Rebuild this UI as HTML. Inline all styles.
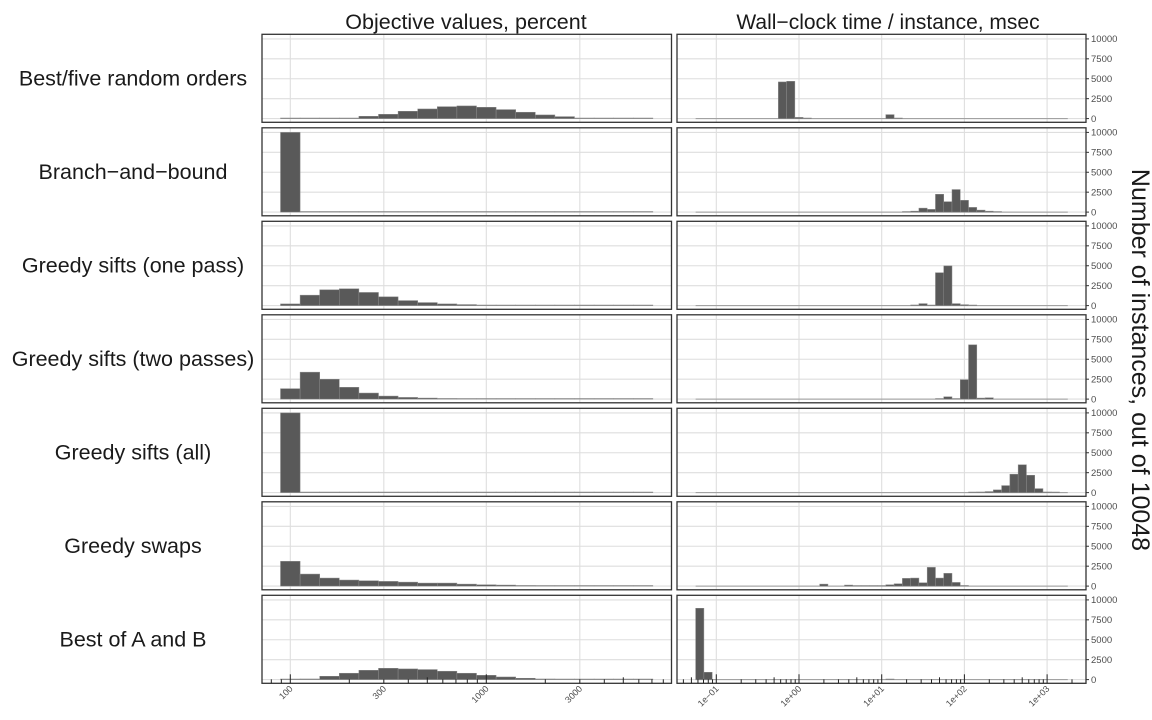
<!DOCTYPE html>
<html><head><meta charset="utf-8"><style>
html,body{margin:0;padding:0;background:#fff}
svg{display:block;font-family:"Liberation Sans",sans-serif}
</style></head><body>
<svg id="chart" width="1152" height="720" viewBox="0 0 1152 720">
<text x="466" y="29" font-size="21.5" text-anchor="middle" fill="#1a1a1a">Objective values, percent</text>
<text x="888" y="29" font-size="21" text-anchor="middle" fill="#1a1a1a">Wall−clock time / instance, msec</text>
<text transform="translate(1132,360) rotate(90)" font-size="25" text-anchor="middle" fill="#1a1a1a">Number of instances, out of 10048</text>
</svg>
<script>
const rowLabels = ["Best/five random orders","Branch−and−bound","Greedy sifts (one pass)","Greedy sifts (two passes)","Greedy sifts (all)","Greedy swaps","Best of A and B"];
const leftCounts = [
 [5,0,30,40,290,540,920,1210,1500,1590,1420,1130,800,460,250,40,20,10,5],
 [10000,0,0,0,0,0,0,0,0,0,0,0,0,0,0,0,0,0,0],
 [210,1310,1980,2110,1650,1100,630,380,210,130,40,20,15,10,5,5,3,2,1],
 [1310,3380,2490,1480,760,380,210,130,80,20,15,10,5,5,3,2,1,1,0],
 [10000,0,0,0,0,0,0,0,0,0,0,0,0,0,0,0,0,0,0],
 [3110,1510,1010,760,670,590,500,380,380,250,170,130,80,40,20,15,10,5,3],
 [0,80,420,800,1170,1420,1340,1260,1050,800,540,330,170,80,40,20,10,5,3]
];
const rightLogs = [
 [-0.2,-0.1,0.0,0.1,1.1,1.2],
 [1.3,1.4,1.5,1.6,1.7,1.8,1.9,2.0,2.1,2.2,2.3,2.4],
 [1.4,1.5,1.6,1.7,1.8,1.9,2.0,2.1],
 [1.7,1.8,1.9,2.0,2.1,2.2,2.3],
 [2.1,2.2,2.3,2.4,2.5,2.6,2.7,2.8,2.9,3.0,3.1],
 [0.3,0.6,0.7,0.8,0.9,1.0,1.1,1.2,1.3,1.4,1.5,1.6,1.7,1.8,1.9,2.0],
 [-1.2,-1.1,1.1]
];
const rightCounts = [
 [4600,4680,150,40,500,50],
 [10,120,500,340,2240,1310,2830,1480,590,250,120,40],
 [80,250,10,4130,4980,250,120,30],
 [40,290,0,2440,6810,130,170],
 [10,80,130,340,880,2310,3490,2180,500,80,30],
 [250,130,40,40,40,40,170,290,970,1010,420,2350,1010,1600,460,80],
 [8950,920,50]
];
const yTicks = [0,2500,5000,7500,10000];
const leftXTicks = [100,300,1000,3000];
const rightXTicks = [-1,0,1,2,3];
const rightXLabels = ["1e−01","1e+00","1e+01","1e+02","1e+03"];

const NS="http://www.w3.org/2000/svg";
const svg=document.getElementById('chart');
function mk(tag,attrs,parent){const e=document.createElementNS(NS,tag);for(const k in attrs)e.setAttribute(k,attrs[k]);(parent||svg).appendChild(e);return e;}
const LX0=262,LX1=671.5,RX0=677,RX1=1086;
const lx=v=>290.3+196*(Math.log10(v)-2);
const rx=l=>799+82.7*l;
const rowTop=i=>34.3+i*93.5;
const PH=88;
const yS=(i,c)=>rowTop(i)+84.3-c*79.7/10000;

for(let i=0;i<7;i++){
  const t=rowTop(i);
  const lab=mk('text',{x:133,y:t+PH/2+7,'font-size':21.5,'text-anchor':'middle',fill:'#1a1a1a'});
  lab.textContent=rowLabels[i];
  
  
  [[LX0,LX1,'left'],[RX0,RX1,'right']].forEach(([a,b,side])=>{
    const g=mk('g',{});
    
    
    mk('rect',{x:a,y:t,width:b-a,height:PH,fill:'#fff'},g);
    yTicks.forEach(v=>mk('line',{x1:a,x2:b,y1:yS(i,v),y2:yS(i,v),stroke:'#dedede','stroke-width':1.1},g));
    if(side==='left') leftXTicks.forEach(v=>mk('line',{x1:lx(v),x2:lx(v),y1:t,y2:t+PH,stroke:'#dedede','stroke-width':1.1},g));
    else rightXTicks.forEach(l=>mk('line',{x1:rx(l),x2:rx(l),y1:t,y2:t+PH,stroke:'#dedede','stroke-width':1.1},g));
  });
  leftCounts[i].forEach((c,k)=>{
    const x0=lx(Math.pow(10,1.95+0.1*k)),x1=lx(Math.pow(10,2.05+0.1*k));
    const y=yS(i,c),y0=yS(i,0);
    const r=mk('rect',{x:x0,y:Math.min(y,y0-0.6),width:x1-x0,height:Math.max(y0-y,0.6),fill:'#595959',stroke:'#8a8a8a','stroke-width':0.5});
    
    
  });
  mk('line',{x1:rx(-1.25),x2:rx(3.25),y1:yS(i,0),y2:yS(i,0),stroke:'#9a9a9a','stroke-width':1});
  rightLogs[i].forEach((l,j)=>{
    const c=rightCounts[i][j];
    const x0=rx(l-0.05),x1=rx(l+0.05);
    const y=yS(i,c),y0=yS(i,0);
    const r=mk('rect',{x:x0,y:Math.min(y,y0-0.6),width:x1-x0,height:Math.max(y0-y,0.6),fill:'#595959',stroke:'#8a8a8a','stroke-width':0.5});
    
    
  });
  mk('rect',{x:LX0,y:t,width:LX1-LX0,height:PH,fill:'none',stroke:'#333','stroke-width':1.3});
  mk('rect',{x:RX0,y:t,width:RX1-RX0,height:PH,fill:'none',stroke:'#333','stroke-width':1.3});
  yTicks.forEach(v=>{
    mk('line',{x1:RX1,x2:RX1+3,y1:yS(i,v),y2:yS(i,v),stroke:'#333','stroke-width':1});
    const tx=mk('text',{x:RX1+5,y:yS(i,v)+3.3,'font-size':9.5,fill:'#4d4d4d'});
    tx.textContent=v;
    
    
  });
}
const yb=rowTop(6)+PH;
for(let d=1;d<=3;d++)for(let m=1;m<10;m++){
  const v=m*Math.pow(10,d);const x=lx(v);
  if(x<LX0||x>LX1)continue;
  const len=m===1?9:(m===5?6:4);
  mk('line',{x1:x,x2:x,y1:yb,y2:yb-len,stroke:'#222','stroke-width':1});
}
for(let d=-2;d<=3;d++)for(let m=1;m<10;m++){
  const l=d+Math.log10(m);const x=rx(l);
  if(x<RX0||x>RX1)continue;
  const len=m===1?9:(m===5?6:4);
  mk('line',{x1:x,x2:x,y1:yb,y2:yb-len,stroke:'#222','stroke-width':1});
}
leftXTicks.forEach(v=>{
  const x=lx(v);
  const t=mk('text',{transform:`translate(${x+3},${yb+6}) rotate(-45)`,'font-size':9,'text-anchor':'end',fill:'#4d4d4d'});
  t.textContent=v;
  
  
});
rightXTicks.forEach((l,j)=>{
  const x=rx(l);
  const t=mk('text',{transform:`translate(${x+3},${yb+6}) rotate(-45)`,'font-size':9,'text-anchor':'end',fill:'#4d4d4d'});
  t.textContent=rightXLabels[j];
  
  
});
</script>
</body></html>
